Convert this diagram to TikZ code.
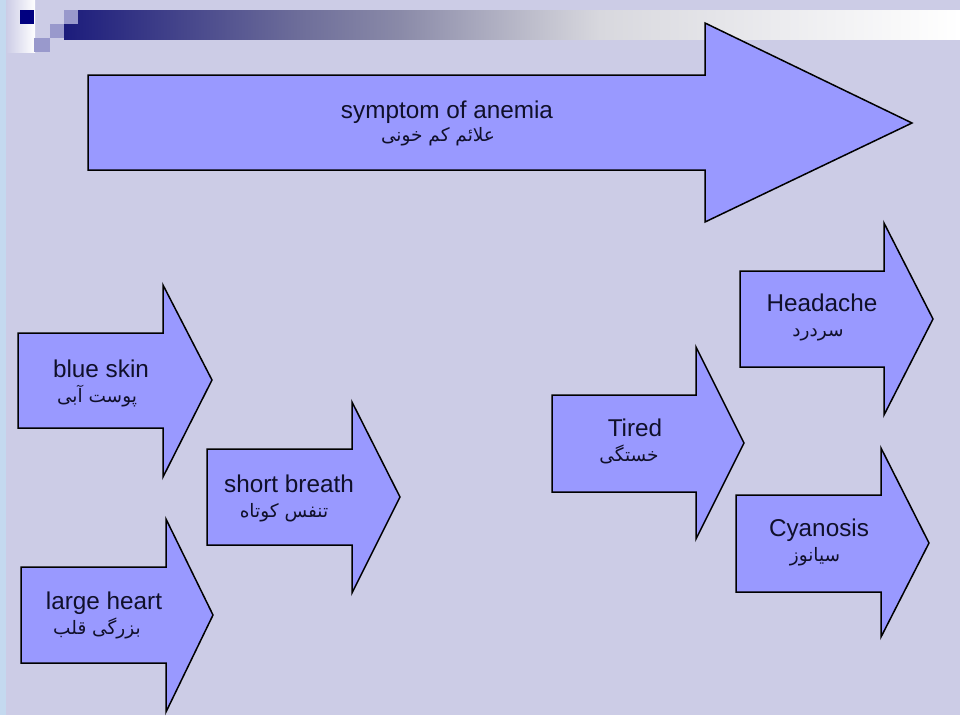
\documentclass[tikz,border=0pt]{standalone}
\usepackage{fontspec}
\setmainfont{Liberation Sans}
\newfontfamily\fafont[Script=Arabic]{DejaVu Sans}
\TeXXeTstate=1

\definecolor{slidebg}{HTML}{CCCCE6}
\definecolor{edgeblue}{HTML}{C4D9EF}
\definecolor{navy}{HTML}{000080}
\definecolor{paleblock}{HTML}{9999CC}
\definecolor{arrowfill}{HTML}{9999FF}
\definecolor{inkc}{HTML}{10102A}
\definecolor{barA}{HTML}{1C1C7C}
\definecolor{barB}{HTML}{6E6E9A}
\definecolor{barC}{HTML}{8A8AA8}
\definecolor{barD}{HTML}{D8D8DE}

% title bar: dark navy fading to white
\pgfdeclarehorizontalshading{titlebar}{100bp}{%
  color(0bp)=(barA); color(25bp)=(barA); color(38.2bp)=(barB);
  color(43.75bp)=(barC); color(54.9bp)=(barD); color(75bp)=(white);
  color(100bp)=(white)}

% block arrow: shaft left, shaft top, shaft bottom, head base,
% head top, head bottom, tip x, tip y
\newcommand\blockarrow[8]{%
  \draw[symarrow] (#1,#2) -- (#4,#2) -- (#4,#5) -- (#7,#8) -- (#4,#6)
    -- (#4,#3) -- (#1,#3) -- cycle;}

\begin{document}
\begin{tikzpicture}[x=1pt,y=-1pt,
  symarrow/.style={draw=black, line width=1.5pt, fill=arrowfill, line join=miter},
  entext/.style={anchor=base, inner sep=0pt, text=inkc,
    font=\fontsize{24.3}{27}\selectfont},
  fatext/.style={anchor=base, inner sep=0pt, text=inkc,
    font=\fafont\fontsize{18.5}{20}\selectfont}]

% slide background
\useasboundingbox (0,0) rectangle (960,715);
\fill[slidebg] (0,0) rectangle (960,715);
\fill[edgeblue] (0,0) rectangle (6,715);
\shade[left color=slidebg, right color=white] (6,0) rectangle (35,52);

% title decoration
\shade[shading=titlebar] (64,10) rectangle (960,39);
\fill[navy] (20,10) rectangle (34,24);
\fill[paleblock] (64,10) rectangle (78,24);
\fill[paleblock] (50,24) rectangle (64,38);
\fill[paleblock] (34,38) rectangle (50,52);

% arrows
\blockarrow{88}{75}{170}{705}{23}{222}{912}{123}
\blockarrow{18}{333}{428}{163}{285}{477}{212}{380}
\blockarrow{21}{567}{663}{166}{519}{712}{213}{615}
\blockarrow{207}{449}{545}{352}{402}{593}{400}{497}
\blockarrow{552}{395}{492}{696}{347}{539}{744}{443}
\blockarrow{740}{271}{367}{884}{223}{415}{933}{319}
\blockarrow{736}{495}{592}{881}{448}{637}{929}{543}

% labels
\node[entext] (anemia) at (447,118) {symptom of anemia};
\node[fatext] (anemiafa) at (438,141) {\beginR علائم کم خونی\endR};

\node[entext] (blueskin) at (101,377) {blue skin};
\node[fatext] (blueskinfa) at (97,402) {\beginR پوست آبی\endR};

\node[entext] (heart) at (104,609) {large heart};
\node[fatext] (heartfa) at (97,634) {\beginR بزرگی قلب\endR};

\node[entext] (breath) at (289,492) {short breath};
\node[fatext] (breathfa) at (284,517) {\beginR تنفس کوتاه\endR};

\node[entext] (tired) at (635,436) {Tired};
\node[fatext] (tiredfa) at (629,461) {\beginR خستگی\endR};

\node[entext] (headache) at (822,311) {Headache};
\node[fatext] (headachefa) at (818,336) {\beginR سردرد\endR};

\node[entext] (cyanosis) at (819,536) {Cyanosis};
\node[fatext] (cyanosisfa) at (815,561) {\beginR سیانوز\endR};

\end{tikzpicture}
\end{document}
